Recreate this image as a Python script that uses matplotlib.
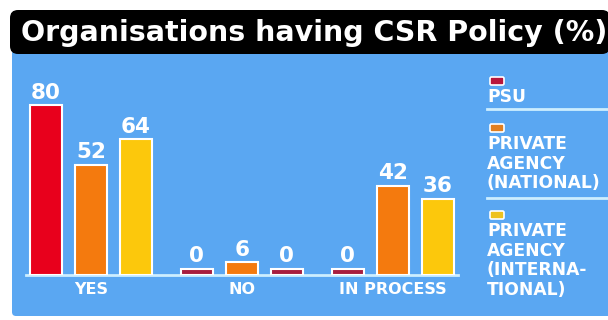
import numpy as np
import matplotlib.pyplot as plt
from matplotlib.patches import FancyBboxPatch

plt.rcParams["font.family"] = ["DejaVu Sans"]

# Share of organisations with a CSR policy, by response
categories = ["YES", "NO", "IN PROCESS"]
series_names = ["PSU", "PRIVATE\nAGENCY\n(NATIONAL)", "PRIVATE\nAGENCY\n(INTERNA-\nTIONAL)"]
psu = [80, 0, 0]
private_national = [52, 6, 42]
private_international = [64, 0, 36]

series = [psu, private_national, private_international]
colors = ["#e8001c", "#f47a0e", "#fcc80c"]
legend_colors = ["#b8163c", "#e07f22", "#eec21e"]
zero_color = "#a81e3e"
blue = "#5aa7f2"
pale = "#cdeeff"

W, H = 608, 320
fig = plt.figure(figsize=(W / 100, H / 100), dpi=100)
fig.patch.set_facecolor("white")

# background layer in pixel units
bg = fig.add_axes([0, 0, 1, 1])
bg.set_xlim(0, W)
bg.set_ylim(H, 0)
bg.axis("off")
bg.add_patch(FancyBboxPatch((12, 50), 600, 266, boxstyle="round,pad=0,rounding_size=4",
                            fc=blue, ec="none"))
bg.add_patch(FancyBboxPatch((10, 10), 600, 44, boxstyle="round,pad=0,rounding_size=8",
                            fc="black", ec="none"))
bg.text(21, 33, "Organisations having CSR Policy (%)", color="white", fontsize=20.5,
        fontweight="bold", va="center", ha="left")

# bar chart
ax = fig.add_axes([10 / W, 45 / H, 470 / W, 220 / H])
ax.set_xlim(-0.8, 9.64)
ax.set_ylim(0, 103.8)
ax.axis("off")
ax.patch.set_alpha(0)

group_step = 3.35
width = 0.71
stub = 3
xs_all = []
for i, vals in enumerate(series):
    xs = np.arange(len(categories)) * group_step + i
    xs_all.extend(xs)
    for x, v in zip(xs, vals):
        if v == 0:
            ax.bar(x, stub, width, color=zero_color, edgecolor="white", linewidth=1.5, zorder=3)
            top = stub
        else:
            ax.bar(x, v, width, color=colors[i], edgecolor="white", linewidth=1.5, zorder=3)
            top = v
        ax.annotate(str(v), (x, top), xytext=(0, 2), textcoords="offset points",
                    ha="center", va="bottom", color="white", fontsize=15.5,
                    fontweight="bold", zorder=4)

ax.plot([min(xs_all) - width / 2 - 0.1, max(xs_all) + width / 2 + 0.1], [0, 0],
        color=pale, lw=2, zorder=2, clip_on=False)

for g, cat in enumerate(categories):
    ax.annotate(cat, (g * group_step + 1, 0), xytext=(0, -5), textcoords="offset points",
                ha="center", va="top", color="white", fontsize=11.5, fontweight="bold")

# legend panel
legend_tops = [77, 124, 211]
for name, c, y in zip(series_names, legend_colors, legend_tops):
    bg.add_patch(FancyBboxPatch((490, y), 14, 8, boxstyle="round,pad=0,rounding_size=1.5",
                                fc=c, ec="white", lw=1.2))
    bg.text(487, y + 11, name, color="white", fontsize=12.3, fontweight="bold",
            ha="left", va="top", linespacing=1.12)
for y in [109, 198]:
    bg.plot([487, 608], [y, y], color=pale, lw=2)

fig.savefig("out.png", dpi=100)
